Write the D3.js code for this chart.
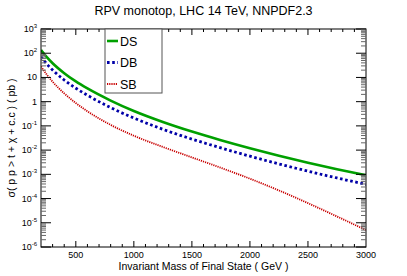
<!DOCTYPE html>
<html>
<head>
<meta charset="utf-8">
<script src="https://cdn.jsdelivr.net/npm/d3@7"></script>
<style>
  body { margin: 0; background: #fff; }
  text { font-family: "Liberation Sans", Arial, sans-serif; fill: #000; }
</style>
</head>
<body>
<div id="chart"></div>
<script>
// 1: DATA
const mass = [200, 250, 300, 400, 500, 600, 800, 1000, 1250, 1500, 1750, 2000, 2250, 2500, 2750, 3000];
const ds = [136, 68.4, 38.5, 15.0, 6.84, 3.51, 1.11, 0.412, 0.145, 0.0582, 0.0257, 0.0120, 0.00589, 0.00302, 0.00162, 0.000912];
const db = [71.6, 35.9, 20.2, 7.85, 3.59, 1.84, 0.569, 0.211, 0.0724, 0.0285, 0.0123, 0.00562, 0.00269, 0.00135, 0.000708, 0.000389];
const sb = [29.0, 13.0, 6.65, 2.20, 0.877, 0.401, 0.110, 0.0392, 0.0135, 0.00501, 0.00186, 0.000661, 0.000216, 0.0000646, 0.0000182, 0.0000050];
const seriesNames = ["DS", "DB", "SB"];
const xTicks = [500, 1000, 1500, 2000, 2500, 3000];
const yExponents = [3, 2, 1, 0, -1, -2, -3, -4, -5, -6];

// 2: LAYOUT
const W = 407, H = 276;
const margin = { top: 29, right: 41, bottom: 29, left: 41 };
const width = W - margin.left - margin.right;
const height = H - margin.top - margin.bottom;

const svg = d3.select("#chart").append("svg")
    .attr("width", W)
    .attr("height", H);

const g = svg.append("g")
    .attr("transform", `translate(${margin.left},${margin.top})`);

// 3: SCALES
const x = d3.scaleLinear().domain([200, 3000]).range([0, width]);
const y = d3.scaleLog().domain([1e-6, 1e3]).range([height, 0]);

// 4: CURVES
const styles = {
    DS: { color: "#00a000", width: 2.6, dash: null },
    DB: { color: "#0000a8", width: 2.8, dash: "2.6,2.6" },
    SB: { color: "#c80000", width: 1.8, dash: "1.2,1" }
};
const values = { DS: ds, DB: db, SB: sb };

const line = d3.line()
    .x(d => x(d.m))
    .y(d => y(d.v))
    .curve(d3.curveMonotoneX);

g.append("defs").append("clipPath").attr("id", "clip")
    .append("rect").attr("width", width).attr("height", height);

["SB", "DB", "DS"].forEach(name => {
    const data = mass.map((m, i) => ({ m: m, v: values[name][i] }));
    g.append("path")
        .datum(data)
        .attr("clip-path", "url(#clip)")
        .attr("fill", "none")
        .attr("stroke", styles[name].color)
        .attr("stroke-width", styles[name].width)
        .attr("stroke-dasharray", styles[name].dash)
        .attr("d", line);
});

// 5: FRAME AND TICKS
g.append("rect")
    .attr("width", width)
    .attr("height", height)
    .attr("fill", "none")
    .attr("stroke", "#000")
    .attr("stroke-width", 1);

const ticks = g.append("g").attr("stroke", "#000").attr("stroke-width", 1);

// x ticks (major every 500, minor every 100), bottom and top, pointing in
d3.range(300, 3000, 100).forEach(m => {
    const major = m % 500 === 0;
    const len = major ? 6 : 3;
    ticks.append("line").attr("x1", x(m)).attr("x2", x(m)).attr("y1", height).attr("y2", height - len);
    ticks.append("line").attr("x1", x(m)).attr("x2", x(m)).attr("y1", 0).attr("y2", len);
});

// y ticks (log), left and right, pointing in
yExponents.forEach(e => {
    const v = Math.pow(10, e);
    ticks.append("line").attr("x1", 0).attr("x2", 10).attr("y1", y(v)).attr("y2", y(v));
    ticks.append("line").attr("x1", width).attr("x2", width - 10).attr("y1", y(v)).attr("y2", y(v));
    if (e < 3) {
        for (let k = 2; k <= 9; k++) {
            const yy = y(k * v);
            ticks.append("line").attr("x1", 0).attr("x2", 5).attr("y1", yy).attr("y2", yy)
                .attr("stroke", "#666");
            ticks.append("line").attr("x1", width).attr("x2", width - 5).attr("y1", yy).attr("y2", yy)
                .attr("stroke", "#666");
        }
    }
});

// 6: TICK LABELS
g.selectAll(".xlab")
    .data(xTicks)
    .enter().append("text")
    .attr("x", d => x(d))
    .attr("y", height + 11)
    .attr("text-anchor", "middle")
    .style("font-size", "9px")
    .text(d => d);

yExponents.forEach(e => {
    const t = g.append("text")
        .attr("x", -4)
        .attr("y", y(Math.pow(10, e)) + 3)
        .attr("text-anchor", "end")
        .style("font-size", "9px");
    if (e === 1) t.text("10");
    else if (e === 0) t.text("1");
    else {
        t.append("tspan").text("10");
        t.append("tspan").attr("dy", -4).style("font-size", "6px").text(e);
    }
});

// 7: TITLES
svg.append("text")
    .attr("x", margin.left + width / 2)
    .attr("y", 15)
    .attr("text-anchor", "middle")
    .style("font-size", "12.5px")
    .text("RPV monotop, LHC 14 TeV, NNPDF2.3");

svg.append("text")
    .attr("x", margin.left + width / 2)
    .attr("y", 270)
    .attr("text-anchor", "middle")
    .style("font-size", "10.5px")
    .text("Invariant Mass of Final State ( GeV )");

svg.append("text")
    .attr("transform", `translate(15,${margin.top + height / 2}) rotate(-90)`)
    .attr("text-anchor", "middle")
    .style("font-size", "10.5px")
    .text("σ( p p > t + χ + c.c ) ( pb )");

// 8: LEGEND
const legend = svg.append("g").attr("transform", "translate(105,29)");
legend.append("rect")
    .attr("width", 57)
    .attr("height", 64)
    .attr("fill", "#fff")
    .attr("stroke", "#555")
    .attr("stroke-width", 1);

seriesNames.forEach((name, i) => {
    const yy = 12 + i * 21.5;
    legend.append("line")
        .attr("x1", 2).attr("x2", 13)
        .attr("y1", yy).attr("y2", yy)
        .attr("stroke", styles[name].color)
        .attr("stroke-width", styles[name].width)
        .attr("stroke-dasharray", styles[name].dash);
    legend.append("text")
        .attr("x", 15)
        .attr("y", yy + 4.5)
        .style("font-size", "12.5px")
        .text(name);
});
</script>
</body>
</html>
